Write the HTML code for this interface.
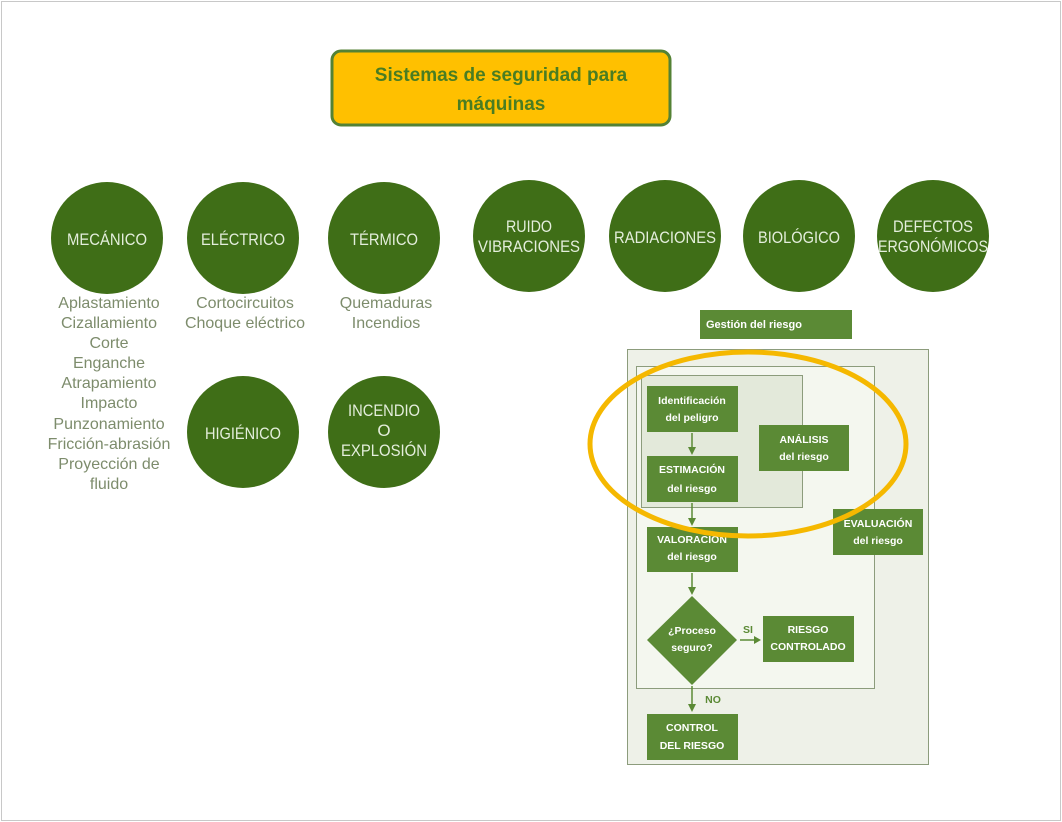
<!DOCTYPE html>
<html><head><meta charset="utf-8"><style>
body{margin:0;background:#fff;}
svg{display:block}
</style></head><body>
<svg width="1062" height="822" xmlns="http://www.w3.org/2000/svg" font-family="Liberation Sans, sans-serif">
<rect x="1.5" y="1.5" width="1059" height="819" fill="#fff" stroke="#c8c8c8" stroke-width="1"/>
<rect x="332" y="51" width="338" height="74" rx="9" fill="#ffc000" stroke="#548235" stroke-width="3"/>
<text x="501" y="81" text-anchor="middle" font-size="19" font-weight="bold" fill="#4a7d22">Sistemas de seguridad para</text>
<text x="501" y="110" text-anchor="middle" font-size="19" font-weight="bold" fill="#4a7d22">máquinas</text>
<g fill="#3f6e17">
<circle cx="107" cy="238" r="56"/><circle cx="243" cy="238" r="56"/><circle cx="384" cy="238" r="56"/>
<circle cx="529" cy="236" r="56"/><circle cx="665" cy="236" r="56"/><circle cx="799" cy="236" r="56"/><circle cx="933" cy="236" r="56"/>
<circle cx="243" cy="432" r="56"/><circle cx="384" cy="432" r="56"/>
</g>
<g fill="#e4eedc" font-size="17" text-anchor="middle">
<text x="107" y="245" textLength="80" lengthAdjust="spacingAndGlyphs">MECÁNICO</text>
<text x="243" y="245" textLength="84" lengthAdjust="spacingAndGlyphs">ELÉCTRICO</text>
<text x="384" y="245" textLength="68" lengthAdjust="spacingAndGlyphs">TÉRMICO</text>
<text x="529" y="232" textLength="46" lengthAdjust="spacingAndGlyphs">RUIDO</text>
<text x="529" y="252" textLength="102" lengthAdjust="spacingAndGlyphs">VIBRACIONES</text>
<text x="665" y="243" textLength="102" lengthAdjust="spacingAndGlyphs">RADIACIONES</text>
<text x="799" y="243" textLength="82" lengthAdjust="spacingAndGlyphs">BIOLÓGICO</text>
<text x="933" y="232" textLength="80" lengthAdjust="spacingAndGlyphs">DEFECTOS</text>
<text x="933" y="252" textLength="110" lengthAdjust="spacingAndGlyphs">ERGONÓMICOS</text>
<text x="243" y="439" textLength="76" lengthAdjust="spacingAndGlyphs">HIGIÉNICO</text>
<text x="384" y="416" textLength="72" lengthAdjust="spacingAndGlyphs">INCENDIO</text>
<text x="384" y="436">O</text>
<text x="384" y="456" textLength="86" lengthAdjust="spacingAndGlyphs">EXPLOSIÓN</text>
</g>
<g fill="#7d8c6c" font-size="16" text-anchor="middle">
<text x="109" y="308">Aplastamiento</text>
<text x="109" y="328">Cizallamiento</text>
<text x="109" y="348">Corte</text>
<text x="109" y="368">Enganche</text>
<text x="109" y="388">Atrapamiento</text>
<text x="109" y="408">Impacto</text>
<text x="109" y="429">Punzonamiento</text>
<text x="109" y="449">Fricción-abrasión</text>
<text x="109" y="469">Proyección de</text>
<text x="109" y="489">fluido</text>
<text x="245" y="308">Cortocircuitos</text>
<text x="245" y="328">Choque eléctrico</text>
<text x="386" y="308">Quemaduras</text>
<text x="386" y="328">Incendios</text>
</g>
<rect x="700" y="310" width="152" height="29" fill="#5b8a35"/>
<text x="706" y="328" font-size="11" font-weight="bold" fill="#fff">Gestión del riesgo</text>
<rect x="627.5" y="349.5" width="301" height="415" fill="#eef1e8" stroke="#8c9c7c"/>
<rect x="636.5" y="366.5" width="238" height="322" fill="#f4f7ef" stroke="#8c9c7c"/>
<rect x="641.5" y="375.5" width="161" height="132" fill="#e3e9da" stroke="#8c9c7c"/>
<g fill="#5b8a35">
<rect x="647" y="386" width="91" height="46"/><rect x="647" y="456" width="91" height="46"/>
<rect x="759" y="425" width="90" height="46"/><rect x="647" y="527" width="91" height="45"/>
<rect x="833" y="509" width="90" height="46"/><rect x="763" y="616" width="91" height="46"/>
<rect x="647" y="714" width="91" height="46"/>
<polygon points="692,596 737,640 692,685 647,640"/>
</g>
<g stroke="#5b8a35" stroke-width="1.5" fill="#5b8a35">
<line x1="692" y1="433" x2="692" y2="450"/><polygon points="688,447 696,447 692,455" stroke="none"/>
<line x1="692" y1="503" x2="692" y2="521"/><polygon points="688,518 696,518 692,526" stroke="none"/>
<line x1="692" y1="573" x2="692" y2="590"/><polygon points="688,587 696,587 692,595" stroke="none"/>
<line x1="740" y1="640" x2="756" y2="640"/><polygon points="754,636 754,644 761,640" stroke="none"/>
<line x1="692" y1="686" x2="692" y2="707"/><polygon points="688,704 696,704 692,712" stroke="none"/>
</g>
<g fill="#fff" font-size="10.5" font-weight="bold" text-anchor="middle">
<text x="692" y="404">Identificación</text><text x="692" y="421">del peligro</text>
<text x="692" y="473">ESTIMACIÓN</text><text x="692" y="492">del riesgo</text>
<text x="804" y="443">ANÁLISIS</text><text x="804" y="460">del riesgo</text>
<text x="692" y="543">VALORACIÓN</text><text x="692" y="560">del riesgo</text>
<text x="878" y="527">EVALUACIÓN</text><text x="878" y="544">del riesgo</text>
<text x="692" y="634">¿Proceso</text><text x="692" y="651">seguro?</text>
<text x="808" y="633">RIESGO</text><text x="808" y="650">CONTROLADO</text>
<text x="692" y="731">CONTROL</text><text x="692" y="749">DEL RIESGO</text>
</g>
<text x="748" y="633" font-size="10.5" font-weight="bold" fill="#5b8a35" text-anchor="middle">SI</text>
<text x="713" y="703" font-size="10.5" font-weight="bold" fill="#5b8a35" text-anchor="middle">NO</text>
<ellipse cx="748" cy="444" rx="158" ry="92" fill="none" stroke="#f5b800" stroke-width="5"/>
</svg>
</body></html>
